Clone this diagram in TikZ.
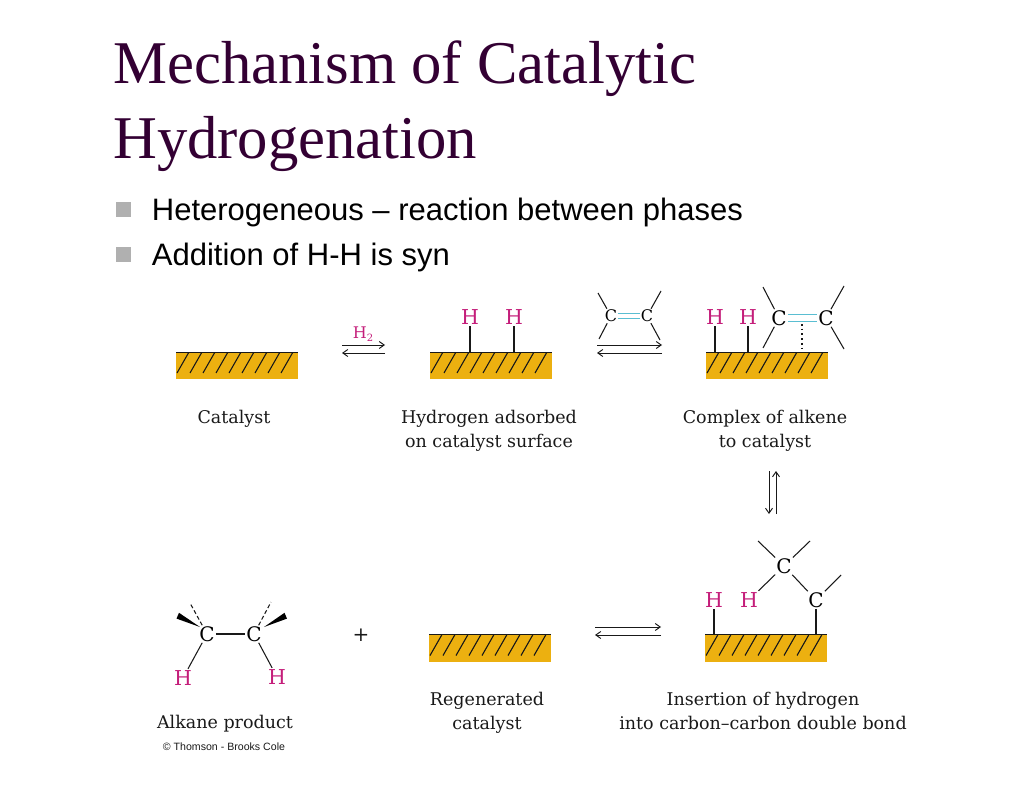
\documentclass[tikz,border=0pt]{standalone}
\usepackage{fontspec}
\setsansfont{Liberation Sans}
\setmainfont{DejaVu Serif}
\newfontfamily\titlefont{Liberation Serif}
\usepackage{xcolor}
\definecolor{TitlePurple}{RGB}{51,0,51}
\definecolor{BulletGray}{RGB}{176,176,176}
\definecolor{FillGold}{RGB}{236,176,16}
\definecolor{AtomPink}{RGB}{196,30,122}
\definecolor{BondCyan}{RGB}{90,190,210}
\definecolor{BondGray}{RGB}{25,25,25}
\usetikzlibrary{arrows.meta, positioning, calc}
\tikzset{
  % Slide text
  slidetitle/.style={anchor=base west, inner sep=0pt, text=TitlePurple, font=\titlefont\fontsize{60.7}{62}\selectfont},
  bulletbox/.style={rectangle, fill=BulletGray, minimum size=15pt, inner sep=0pt},
  bullettext/.style={inner sep=0pt, font=\sffamily\fontsize{31}{34}\selectfont},
  % Catalyst surface with its hatching
  catbox/.style={
    rectangle, fill=FillGold, minimum width=122pt, minimum height=27pt,
    inner sep=0pt, outer sep=0pt,
    path picture={
      \draw[BondGray, line width=1.2pt] (path picture bounding box.north west) -- (path picture bounding box.north east);
      \foreach \i in {0,...,8}{
        \draw[BondGray, line width=1.1pt] ($(path picture bounding box.south west)+(1+13*\i,-6)$) -- ++(12,-21);
      }
    }
  },
  % Atoms
  atomC/.style={inner sep=1pt, font=\fontsize{18}{18}\selectfont, text=black},
  atomH/.style={inner sep=1.5pt, text=AtomPink, font=\fontsize{20.5}{20.5}\selectfont},
  % Bonds and arrows
  bond/.style={BondGray, line width=1.05pt},
  dblbond/.style={BondCyan, line width=1.5pt},
  arr/.style={-{Straight Barb[length=5pt,width=7pt]}, BondGray, line width=0.95pt},
  % Captions
  caption/.style={align=center, inner sep=0pt, text=BondGray, font=\fontsize{17.5}{24}\selectfont},
}
\begin{document}
\begin{tikzpicture}[x=1pt, y=-1pt]
  \useasboundingbox (0,0) rectangle (1024,791);

  %% ---- TITLE AND BULLETS ----
  \node[slidetitle] (title1) at (113,84) {Mechanism of Catalytic};
  \node[slidetitle] (title2) at (113,159) {Hydrogenation};
  \node[bulletbox] (bul1) at (123,210) {};
  \node[bulletbox] (bul2) at (123,255) {};
  \node[bullettext, right=21pt of bul1, yshift=-2pt] (txt1) {Heterogeneous -- reaction between phases};
  \node[bullettext, right=21pt of bul2, yshift=-2pt] (txt2) {Addition of H-H is syn};

  %% ---- CATALYST BLOCKS ----
  \node[catbox] (cat1) at (237,365.5) {};
  \node[catbox, right=132pt of cat1] (cat2) {};
  \node[catbox, right=154pt of cat2] (cat3) {};
  \node[catbox] (cat4) at (490,648) {};
  \node[catbox, right=154pt of cat4] (cat5) {};

  %% ---- CAPTIONS ----
  \node[caption, below=31pt of cat1, xshift=-3pt] (lab1) {Catalyst};
  \node[caption, below=31pt of cat2, xshift=-2pt] (lab2) {Hydrogen adsorbed\\on catalyst surface};
  \node[caption, below=31pt of cat3, xshift=-2pt] (lab3) {Complex of alkene\\to catalyst};
  \node[caption, below=30pt of cat4, xshift=-3pt] (lab4) {Regenerated\\catalyst};
  \node[caption, below=30pt of cat5, xshift=-3pt] (lab5) {Insertion of hydrogen\\into carbon--carbon double bond};
  \node[caption] (lab6) at (225,724) {Alkane product};
  \node[inner sep=0pt, text=BondGray, font=\sffamily\fontsize{10.6}{12}\selectfont] (credit) at (224,747) {\textcopyright{} Thomson - Brooks Cole};

  %% ---- H2 ON CATALYST ----
  \node[atomH, font=\fontsize{16}{16}\selectfont] (h2) at (363,334) {H\raisebox{-3pt}{\fontsize{10}{10}\selectfont 2}};
  \coordinate (a1r) at (385,345);
  \coordinate (a1l) at (342,345);
  \coordinate (a2r) at (385,353);
  \coordinate (a2l) at (342,353);
  \draw[arr] (a1l) -- (a1r);
  \draw[arr] (a2r) -- (a2l);

  \node[atomH] (ha) at (470,317) {H};
  \node[atomH] (hb) at (514,317) {H};
  \draw[bond] (ha) -- (ha |- cat2.north);
  \draw[bond] (hb) -- (hb |- cat2.north);

  %% ---- ALKENE OVER ARROWS ----
  \node[atomC, font=\fontsize{16}{16}\selectfont] (ca) at (611,316) {C};
  \node[atomC, font=\fontsize{16}{16}\selectfont] (cb) at (647,316) {C};
  \coordinate (canw) at (598,293);
  \coordinate (casw) at (599,339);
  \coordinate (cbne) at (661,291);
  \coordinate (cbse) at (660,340);
  \foreach \p/\q in {ca/canw, ca/casw, cb/cbne, cb/cbse}{
    \draw[bond] (\p) -- (\q);
  }
  \draw[dblbond] ([yshift=2.5pt]ca.east) -- ([yshift=2.5pt]cb.west);
  \draw[dblbond] ([yshift=-2.5pt]ca.east) -- ([yshift=-2.5pt]cb.west);
  \coordinate (a3r) at (662,345);
  \coordinate (a3l) at (597,345);
  \coordinate (a4r) at (662,353);
  \coordinate (a4l) at (597,353);
  \draw[arr] (a3l) -- (a3r);
  \draw[arr] (a4r) -- (a4l);

  %% ---- ALKENE COMPLEX ----
  \node[atomH] (hc) at (715,317) {H};
  \node[atomH] (hd) at (748,317) {H};
  \draw[bond] (hc) -- (hc |- cat3.north);
  \draw[bond] (hd) -- (hd |- cat3.north);
  \node[atomC, font=\fontsize{20}{20}\selectfont] (cc) at (779,318) {C};
  \node[atomC, font=\fontsize{20}{20}\selectfont] (cd) at (826,318) {C};
  \coordinate (ccnw) at (763,287);
  \coordinate (ccsw) at (763,348);
  \coordinate (cdne) at (844,286);
  \coordinate (cdse) at (844,349);
  \foreach \p/\q in {cc/ccnw, cc/ccsw, cd/cdne, cd/cdse}{
    \draw[bond] (\p) -- (\q);
  }
  \draw[dblbond] ([yshift=3.5pt]cc.east) -- ([yshift=3.5pt]cd.west);
  \draw[dblbond] ([yshift=-3.5pt]cc.east) -- ([yshift=-3.5pt]cd.west);
  \coordinate (dbmid) at (802,324);
  \draw[bond, line width=1.7pt, dash pattern=on 1.7pt off 3pt] (dbmid) -- (dbmid |- cat3.north);

  %% Vertical equilibrium
  \coordinate (a5t) at (769,471);
  \coordinate (a5b) at (769,514);
  \coordinate (a6t) at (776,471);
  \coordinate (a6b) at (776,514);
  \draw[arr] (a5t) -- (a5b);
  \draw[arr] (a6b) -- (a6t);

  %% ---- INSERTION ----
  \node[atomH] (he) at (714,600) {H};
  \node[atomH] (hf) at (749,600) {H};
  \draw[bond] (he) -- (he |- cat5.north);
  \node[atomC, font=\fontsize{20}{20}\selectfont] (ce) at (784,566) {C};
  \node[atomC, font=\fontsize{20}{20}\selectfont] (cf) at (816,600) {C};
  \coordinate (cenw) at (758,541);
  \coordinate (cene) at (810,541);
  \coordinate (cfne) at (841,575);
  \foreach \p/\q in {ce/cenw, ce/cene, ce/hf, ce/cf, cf/cfne}{
    \draw[bond] (\p) -- (\q);
  }
  \draw[bond] (cf) -- (cf |- cat5.north);
  \coordinate (a7r) at (661,627);
  \coordinate (a7l) at (595,627);
  \coordinate (a8r) at (661,635);
  \coordinate (a8l) at (595,635);
  \draw[arr] (a7l) -- (a7r);
  \draw[arr] (a8r) -- (a8l);

  %% ---- ALKANE PRODUCT ----
  \node[atomC, font=\fontsize{20}{20}\selectfont] (cg) at (207,634) {C};
  \node[atomC, font=\fontsize{20}{20}\selectfont] (ch) at (254,634) {C};
  \node[atomH] (hg) at (183,678) {H};
  \node[atomH] (hh) at (277,677) {H};
  \foreach \p/\q in {cg/ch, cg/hg, ch/hh}{
    \draw[bond] (\p) -- (\q);
  }
  \coordinate (cgd) at (190,603);
  \coordinate (chd) at (271,602);
  \draw[bond, dash pattern=on 4pt off 2.5pt] (cg) -- (cgd);
  \draw[bond, dash pattern=on 4pt off 2.5pt] (ch) -- (chd);
  % wedges
  \coordinate (wgt) at (200,627);
  \coordinate (wga) at (179,612.8);
  \coordinate (wgb) at (176.5,618.6);
  \coordinate (wht) at (264,627);
  \coordinate (wha) at (287,618.6);
  \coordinate (whb) at (284.5,612.8);
  \fill[black] (wgt) -- (wga) -- (wgb) -- cycle;
  \fill[black] (wht) -- (wha) -- (whb) -- cycle;

  \node[inner sep=0pt, text=BondGray, font=\fontsize{20}{20}\selectfont] (plus) at (361,635) {+};

\end{tikzpicture}
\end{document}
